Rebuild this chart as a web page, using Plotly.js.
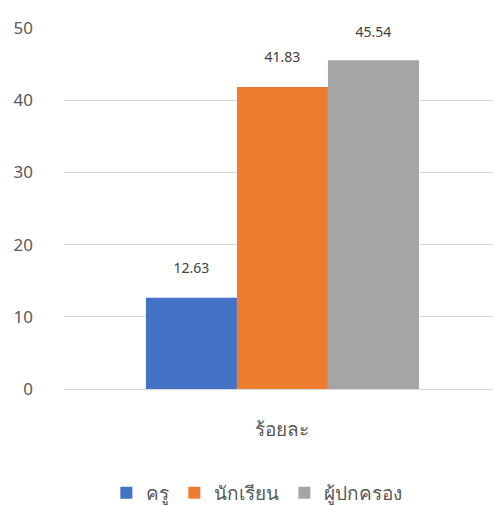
<!DOCTYPE html>
<html>
<head>
<meta charset="utf-8">
<script src="https://cdn.plot.ly/plotly-3.0.1.min.js"></script>
<style>html,body{margin:0;padding:0;background:#fff;}#chart{width:493px;height:506px;}</style>
</head>
<body>
<div id="chart"></div>
<script>
const categories = ["ร้อยละ"];
const seriesNames = ["ครู", "นักเรียน", "ผู้ปกครอง"];
const seriesValues = [[12.63], [41.83], [45.54]];
const seriesColors = ["#4472C4", "#ED7D31", "#A5A5A5"];
const yTicks = [0, 10, 20, 30, 40, 50];

const FONT = "Noto Sans, Tahoma, sans-serif";
// label spacer sizes (styling only): last label sits closer, as in the original
const spacerSizes = [14, 14, 8];
const traces = seriesNames.map((name, i) => ({
  type: "bar",
  name: name,
  x: categories,
  y: seriesValues[i],
  marker: {color: seriesColors[i]},
  texttemplate: "%{y:.2f}<br><span style=\"font-size:" + spacerSizes[i] + "px\"> </span>",
  textposition: "outside",
  cliponaxis: false,
  constraintext: "none",
  textfont: {family: FONT, size: 14, color: "#404040"},
  hoverinfo: "none"
}));

const layout = {
  width: 493, height: 506,
  margin: {l: 64, r: 0, t: 28, b: 117},
  paper_bgcolor: "#fff", plot_bgcolor: "#fff",
  barmode: "group",
  bargap: 0.375,
  bargroupgap: 0,
  font: {family: FONT, color: "#595959"},
  xaxis: {
    type: "category",
    range: [-0.5, 0.482],
    automargin: false,
    showgrid: false, zeroline: false, showline: false,
    ticks: "", tickfont: {size: 19, color: "#595959"},
    ticklabelstandoff: 27
  },
  yaxis: {
    range: [0, 50], tickvals: yTicks,
    automargin: false,
    showgrid: true, gridcolor: "#d9d9d9", gridwidth: 1,
    zeroline: true, zerolinecolor: "#d9d9d9", zerolinewidth: 1,
    showline: false, ticks: "",
    tickfont: {size: 17, color: "#595959"},
    ticklabelstandoff: 30
  },
  showlegend: true,
  legend: {
    orientation: "h", xref: "container", x: 0.521, xanchor: "center",
    yref: "container", y: 0.026, yanchor: "middle",
    font: {size: 19, color: "#595959"},
    itemwidth: 30, traceorder: "normal"
  }
};
Plotly.newPlot("chart", traces, layout, {displayModeBar: false, staticPlot: true});
</script>
</body>
</html>
